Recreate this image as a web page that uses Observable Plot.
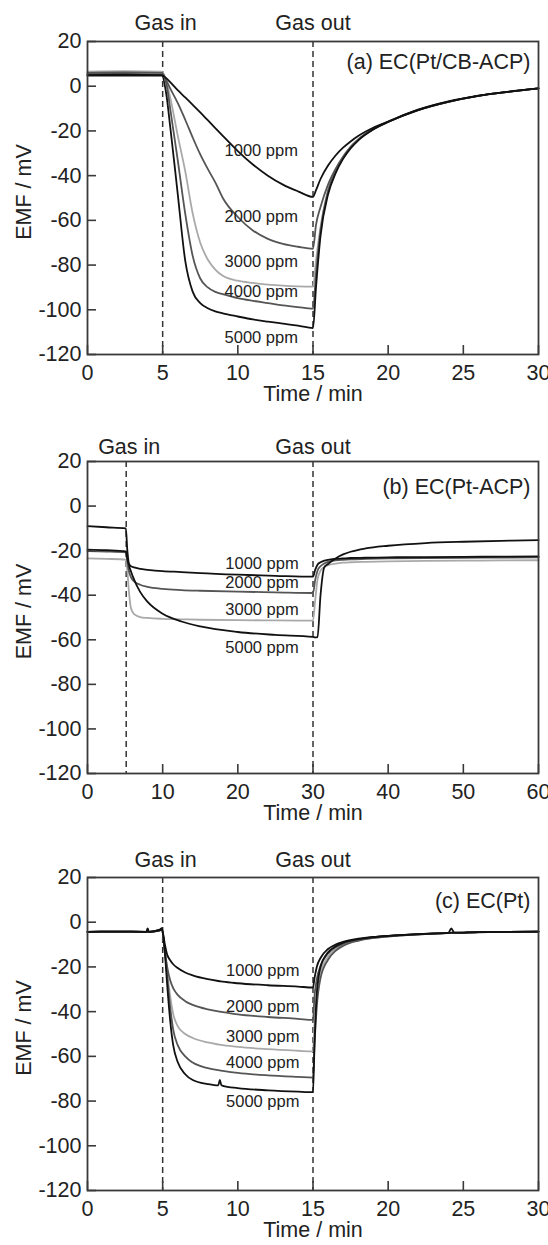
<!DOCTYPE html>
<html><head><meta charset="utf-8">
<script src="https://cdn.jsdelivr.net/npm/d3@7"></script>
<script src="https://cdn.jsdelivr.net/npm/@observablehq/plot@0.6"></script>
<style>body{margin:0;background:#fff}#charts svg{display:block}</style>
</head><body><div id="charts"></div>
<script>
// ---------- shared ----------
const yTicks = [20, 0, -20, -40, -60, -80, -100, -120];
const drawOrder = ["3000 ppm", "2000 ppm", "4000 ppm", "1000 ppm", "5000 ppm"];
const lineColor = {"1000 ppm": "#111", "2000 ppm": "#555", "3000 ppm": "#a9a9a9", "4000 ppm": "#555", "5000 ppm": "#111"};

// ---------- panel (a) EC(Pt/CB-ACP) ----------
const timeA = [0, 2.5, 4.95, 5.25, 5.5, 6, 6.5, 7, 7.5, 8, 8.5, 9, 10, 11, 12, 13, 14, 15, 15.2, 15.5, 16, 16.5, 17, 17.5, 18, 19, 20, 22, 24, 26, 28, 30];
const a1000 = [5, 5.2, 5, 3.5, 1.8, -1.8, -5, -8.3, -11.7, -15.2, -18.7, -22.2, -29, -35, -40, -44, -47, -49.5, -46.5, -41.5, -35.5, -31, -27.5, -24.7, -22.3, -18.6, -15.8, -10.5, -6.8, -4.2, -2.4, -1];
const a2000 = [6, 6.2, 6, 2.5, -1, -7.5, -15, -23, -30.5, -37, -43, -50, -58.5, -64.5, -68.3, -70.5, -71.8, -72.7, -62, -54, -44, -37, -31.5, -27.3, -24, -19.3, -16, -10.7, -7, -4.3, -2.5, -1];
const a3000 = [6.5, 6.7, 6.5, 2, -5, -22, -38, -57, -70, -77.5, -82, -84.8, -87, -88, -88.7, -89.2, -89.5, -89.6, -78, -63, -46.5, -37.5, -31.5, -27, -23.7, -19, -15.8, -10.5, -6.9, -4.3, -2.5, -1];
const a4000 = [5.5, 5.5, 5.3, 1, -10, -33, -57, -76, -86, -90, -92, -93, -94.8, -96, -97, -98, -98.8, -99.5, -84, -64.5, -47, -38, -32, -27.3, -24, -19.2, -15.9, -10.6, -7, -4.3, -2.5, -1];
const a5000 = [4.8, 4.8, 4.7, -4, -18, -48, -78, -92, -97, -99.3, -100.7, -101.6, -103, -104.3, -105.3, -106.2, -107.1, -108.2, -90, -67, -48.5, -39, -32.5, -27.8, -24.3, -19.4, -16, -10.7, -7, -4.3, -2.5, -1];
const gasA = [5, 15];
const xTicksA = [0, 5, 10, 15, 20, 25, 30];
const labelNamesA = ["1000 ppm", "2000 ppm", "3000 ppm", "4000 ppm", "5000 ppm"];
const labelXA = [14.0, 14.0, 14.0, 14.0, 14.0];
const labelYA = [-28.8, -58.3, -78.3, -92.1, -112.7];

// ---------- panel (b) EC(Pt-ACP) ----------
const timeB = [0, 2.5, 5.1, 5.3, 5.5, 5.8, 6.2, 7, 8, 10, 12.5, 15, 20, 25, 30, 30.3, 30.6, 31, 31.5, 32, 33, 34, 35, 37, 40, 45, 50, 55, 60];
const b1000 = [-19.5, -19.8, -20.3, -23.5, -26, -27, -27.5, -28.2, -28.6, -29.2, -29.6, -30.1, -30.8, -31.3, -31.7, -28.5, -26.3, -25.2, -24.5, -24.1, -23.7, -23.5, -23.3, -23.2, -23, -22.9, -22.8, -22.7, -22.6];
const b2000 = [-20.2, -20.4, -20.8, -25, -29, -32, -33.8, -35.3, -36.3, -37.2, -37.7, -38, -38.4, -38.7, -39, -33, -29, -27, -25.8, -25, -24.4, -24.1, -23.9, -23.7, -23.5, -23.3, -23.2, -23.1, -23];
const b3000 = [-23.5, -23.7, -24, -29, -38, -46, -48.5, -49.8, -50.2, -50.6, -50.8, -51, -51.2, -51.3, -51.4, -42, -33, -29, -27.3, -26.5, -25.8, -25.4, -25.2, -25, -24.8, -24.6, -24.5, -24.4, -24.3];
const b5000 = [-9, -9.5, -10, -20, -26, -29.5, -33, -38.5, -43, -48.3, -51.8, -54, -56.5, -57.8, -58.7, -58.9, -58.8, -40, -27.5, -26, -23.5, -21.7, -20.5, -19, -17.8, -16.6, -16, -15.6, -15.3];
const gasB = [5.15, 30];
const xTicksB = [0, 10, 20, 30, 40, 50, 60];
const labelNamesB = ["1000 ppm", "2000 ppm", "3000 ppm", "5000 ppm"];
const labelXB = [28.1, 28.1, 28.1, 28.1];
const labelYB = [-25.9, -34.6, -46.6, -63.6];

// ---------- panel (c) EC(Pt) ----------
const timeC = [0, 2, 3.9, 4, 4.1, 4.8, 4.95, 5.15, 5.3, 5.5, 5.7, 6, 6.5, 7, 8, 8.7, 8.8, 8.9, 9, 10, 12, 14, 15, 15.1, 15.25, 15.5, 16, 16.5, 17, 18, 19, 20, 22, 24, 24.2, 24.4, 26, 28, 30];
const c1000 = [-4.3, -4.2, -4.3, -4.2, -4.3, -3.6, -3.2, -10, -14.5, -17, -18.8, -20.5, -22.5, -23.8, -25.5, -26.3, -26.4, -26.5, -26.6, -27.3, -28.2, -28.8, -29.2, -25, -20, -16, -12, -10, -8.8, -7.4, -6.6, -6.1, -5.3, -4.8, -4.7, -4.7, -4.4, -4.3, -4.2];
const c2000 = [-4.3, -4.2, -4.3, -4.3, -4.3, -3.6, -3.4, -13, -20, -26, -29.5, -32.5, -35.3, -37, -39, -39.9, -40, -40.1, -40.2, -41.2, -42.4, -43.2, -43.7, -33, -25.5, -19.5, -14, -11.2, -9.6, -7.8, -6.8, -6.2, -5.4, -4.8, -4.8, -4.8, -4.4, -4.3, -4.2];
const c3000 = [-4.3, -4.2, -4.3, -4.3, -4.3, -3.6, -3.4, -13, -22, -33, -41, -46.5, -50, -51.8, -53.8, -54.7, -54.8, -54.9, -55, -55.8, -56.8, -57.5, -57.8, -45, -32, -22.5, -15.5, -12, -10, -8, -6.9, -6.3, -5.5, -4.9, -4.9, -4.9, -4.5, -4.3, -4.2];
const c4000 = [-4.3, -4.2, -4.3, -4.3, -4.3, -3.6, -3.4, -13, -24, -38, -48, -55, -60, -62.8, -65.3, -66.2, -66.3, -66.4, -66.5, -67.4, -68.5, -69.2, -69.5, -55, -38, -25, -16.8, -12.8, -10.6, -8.3, -7.1, -6.4, -5.5, -4.9, -4.9, -4.9, -4.5, -4.3, -4.2];
const c5000 = [-4.3, -4.2, -4.3, -2.8, -4.3, -3.3, -2.6, -14, -28, -44, -55, -62.5, -68, -70.6, -72.4, -73, -70.5, -72.8, -73.2, -74.2, -75.2, -75.8, -76, -55, -32, -20, -13.5, -10.8, -9.2, -7.6, -6.7, -6.1, -5.3, -4.8, -2.8, -4.7, -4.4, -4.3, -4.2];
const gasC = [5, 15];
const xTicksC = [0, 5, 10, 15, 20, 25, 30];
const labelNamesC = ["1000 ppm", "2000 ppm", "3000 ppm", "4000 ppm", "5000 ppm"];
const labelXC = [14.1, 14.1, 14.1, 14.1, 14.1];
const labelYC = [-21.9, -37.7, -51, -62.9, -80.2];

const FONT = "'Liberation Sans', Arial, Helvetica, sans-serif";
const W = 548, ML = 87, MR = 10, FS = 21.5;

function panel(cfg) {
  const rows = [];
  cfg.series.forEach(([name, vals]) => vals.forEach((v, i) => rows.push({t: cfg.time[i], v, name})));
  const labels = cfg.labelNames.map((n, i) => ({text: n, x: cfg.labelX[i], y: cfg.labelY[i]}));
  const innerH = cfg.height - cfg.mt - cfg.mb;
  const innerW = W - ML - MR;
  const present = drawOrder.filter(n => cfg.series.some(s => s[0] === n));
  return Plot.plot({
    width: W, height: cfg.height,
    marginLeft: ML, marginRight: MR, marginTop: cfg.mt, marginBottom: cfg.mb,
    style: {fontFamily: FONT, fontSize: FS + "px", color: "#222", background: "#fff", overflow: "visible"},
    x: {domain: cfg.xDomain},
    y: {domain: [-120, 20]},
    marks: [
      Plot.ruleX(cfg.gas, {x: d => d, stroke: "#333", strokeWidth: 1.5, strokeDasharray: "6,4"}),
      ...present.map(n => Plot.line(rows.filter(r => r.name === n), {x: "t", y: "v", stroke: lineColor[n], strokeWidth: 1.8, curve: "monotone-x"})),
      Plot.frame({stroke: "#3a3a3a", strokeWidth: 1.8}),
      Plot.tickX(cfg.xTicks, {x: d => d, insetTop: innerH - 9, stroke: "#3a3a3a", strokeWidth: 1.6}),
      Plot.tickY(yTicks, {y: d => d, insetRight: innerW - 9, stroke: "#3a3a3a", strokeWidth: 1.6}),
      Plot.axisX(cfg.xTicks, {tickSize: 0, tickPadding: 10, tickFormat: d => String(d), label: null, fontSize: FS, fill: "#222"}),
      Plot.axisY(yTicks, {tickSize: 0, tickPadding: 6, tickFormat: d => String(d), label: null, fontSize: FS, fill: "#222"}),
      Plot.text(labels, {x: "x", y: "y", text: "text", textAnchor: "end", lineAnchor: "middle", fontSize: 16.5, fill: "#222"}),
      Plot.text(["Gas in"], {x: () => cfg.gas[0], text: d => d, frameAnchor: "top", dx: 3, dy: -cfg.gasDy, lineAnchor: "middle", textAnchor: "middle", fontSize: FS, fill: "#222"}),
      Plot.text(["Gas out"], {x: () => cfg.gas[1], text: d => d, frameAnchor: "top", dy: -cfg.gasDy, lineAnchor: "middle", textAnchor: "middle", fontSize: FS, fill: "#222"}),
      Plot.text([cfg.title], {text: d => d, frameAnchor: "top-right", dx: -8, dy: cfg.titleDy, textAnchor: "end", lineAnchor: "middle", fontSize: FS, fill: "#222"}),
      Plot.text(["Time / min"], {text: d => d, frameAnchor: "bottom", dy: 40, textAnchor: "middle", lineAnchor: "middle", fontSize: FS, fill: "#222"}),
      Plot.text(["EMF / mV"], {text: d => d, frameAnchor: "left", dx: -63, dy: -6, rotate: -90, textAnchor: "middle", lineAnchor: "middle", fontSize: FS, fill: "#222"})
    ]
  });
}

const root = document.getElementById("charts");
root.append(panel({
  height: 420, mt: 41, mb: 66, xDomain: [0, 30], time: timeA,
  series: [["1000 ppm", a1000], ["2000 ppm", a2000], ["3000 ppm", a3000], ["4000 ppm", a4000], ["5000 ppm", a5000]],
  gas: gasA, xTicks: xTicksA, labelNames: labelNamesA, labelX: labelXA, labelY: labelYA,
  title: "(a) EC(Pt/CB-ACP)", titleDy: 21, gasDy: 18
}));
root.append(panel({
  height: 416, mt: 41, mb: 63, xDomain: [0, 60], time: timeB,
  series: [["1000 ppm", b1000], ["2000 ppm", b2000], ["3000 ppm", b3000], ["5000 ppm", b5000]],
  gas: gasB, xTicks: xTicksB, labelNames: labelNamesB, labelX: labelXB, labelY: labelYB,
  title: "(b) EC(Pt-ACP)", titleDy: 26, gasDy: 14.5
}));
root.append(panel({
  height: 409, mt: 41, mb: 55, xDomain: [0, 30], time: timeC,
  series: [["1000 ppm", c1000], ["2000 ppm", c2000], ["3000 ppm", c3000], ["4000 ppm", c4000], ["5000 ppm", c5000]],
  gas: gasC, xTicks: xTicksC, labelNames: labelNamesC, labelX: labelXC, labelY: labelYC,
  title: "(c) EC(Pt)", titleDy: 24, gasDy: 17
}));
</script>
</body></html>
